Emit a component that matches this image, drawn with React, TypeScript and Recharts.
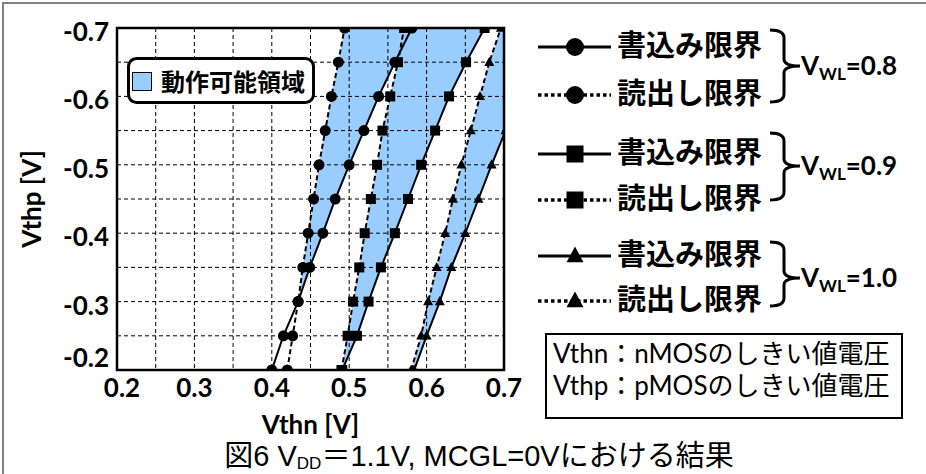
import React from "react";
import {
  Area,
  CartesianGrid,
  ComposedChart,
  Legend,
  Line,
  ReferenceArea,
  XAxis,
  YAxis,
} from "recharts";

// Vthp levels (y) and the Vthn limit (x)
const vthp = [-0.2, -0.25, -0.3, -0.35, -0.4, -0.45, -0.5, -0.55, -0.6, -0.65, -0.7];
const write08 = [0.4, 0.415, 0.434, 0.449, 0.466, 0.482, 0.5, 0.519, 0.538, 0.559, 0.581];
const read08 = [0.42, 0.427, 0.434, 0.44, 0.447, 0.454, 0.461, 0.469, 0.477, 0.486, 0.494];
const write09 = [0.491, 0.51, 0.525, 0.541, 0.559, 0.576, 0.593, 0.611, 0.629, 0.651, 0.675];
const read09 = [0.49, 0.498, 0.505, 0.513, 0.52, 0.528, 0.536, 0.543, 0.553, 0.563, 0.571];
const write10 = [0.584, 0.6, 0.617, 0.632, 0.65, 0.667, 0.684, 0.702, 0.72, 0.739, 0.758];
const read10 = [0.58, 0.593, 0.602, 0.613, 0.624, 0.634, 0.645, 0.657, 0.669, 0.681, 0.696];

const xTicks = [0.2, 0.25, 0.3, 0.35, 0.4, 0.45, 0.5, 0.55, 0.6, 0.65, 0.7];
const yTicks = [-0.7, -0.65, -0.6, -0.55, -0.5, -0.45, -0.4, -0.35, -0.3, -0.25, -0.2];

const vwlLabels = ["0.8", "0.9", "1.0"];
const limitNames = ["書込み限界", "読出し限界"];
const areaName = "動作可能領域";
const noteLines = ["Vthn：nMOSのしきい値電圧", "Vthp：pMOSのしきい値電圧"];

const BLUE = "#99CCFF";
const FONT_NUM = "Lato, 'Noto Sans CJK JP', sans-serif";
const FONT_JP = "'Noto Sans CJK JP', sans-serif";

const band = (r: number, w: number) => (w >= r ? [r, w] : null);

const rows = vthp.map((v, i) => ({
  vthp: v,
  w08: write08[i],
  r08: read08[i],
  w09: write09[i],
  r09: read09[i],
  w10: write10[i],
  r10: read10[i],
  b08: band(read08[i], write08[i]),
  b09: band(read09[i], write09[i]),
  b10: band(read10[i], write10[i]),
}));

type Shape = "circle" | "square" | "triangle";
const shapes: Shape[] = ["circle", "square", "triangle"];

function Marker({ cx, cy, shape, size }: { cx?: number; cy?: number; shape: Shape; size: number }) {
  if (cx == null || cy == null) return <g />;
  if (shape === "circle") return <circle cx={cx} cy={cy} r={size / 2} fill="#000" />;
  if (shape === "square")
    return <rect x={cx - size / 2} y={cy - size / 2} width={size} height={size} fill="#000" />;
  const h = size * 0.92;
  return (
    <path
      d={`M${cx},${cy - h * 0.6}L${cx + size / 2},${cy + h * 0.4}L${cx - size / 2},${cy + h * 0.4}Z`}
      fill="#000"
    />
  );
}

const dotFor = (shape: Shape) => (p: any) =>
  <Marker key={`m-${p.index}`} cx={p.cx} cy={p.cy} shape={shape} size={shape === "circle" ? 11 : 10} />;

const isMajor = (v: number) => Math.round(Math.abs(v) * 100) % 10 === 0;

function XTick({ x, y, payload }: any) {
  const v = payload.value;
  if (!isMajor(v)) return <g />;
  return (
    <text x={x + (v === 0.2 ? 5 : 0)} y={y} dy={19} textAnchor="middle"
      fontFamily={FONT_NUM} fontWeight={700} fontSize={26} fill="#000">
      {v.toFixed(1)}
    </text>
  );
}

function YTick({ x, y, payload }: any) {
  const v = payload.value;
  if (!isMajor(v)) return <g />;
  return (
    <text x={x} y={y} dy={v === -0.2 ? -3 : 13} textAnchor="end"
      fontFamily={FONT_NUM} fontWeight={700} fontSize={26} fill="#000">
      {v.toFixed(1)}
    </text>
  );
}

// legend rows and braces, page coordinates
const rowY = [[47, 95], [154, 200], [256, 301]];
const braceY = [[30, 102, 66], [133, 200, 166], [242, 306, 278]];

function LegendBlock() {
  return (
    <svg width={926} height={474} style={{ display: "block" }}>
      <rect x={128.5} y={58.5} width={185} height={44} rx={8} fill="#fff" stroke="#000" strokeWidth={3} />
      <rect x={132.5} y={72.5} width={19} height={18} fill={BLUE} stroke="#000" strokeWidth={1} />
      <text x={161} y={91} fontFamily={FONT_JP} fontWeight={700} fontSize={24} fill="#000">
        {areaName}
      </text>
      {vwlLabels.map((vwl, g) => {
        const [t, b, m] = braceY[g];
        return (
          <g key={vwl}>
            {limitNames.map((name, k) => {
              const y = rowY[g][k];
              return (
                <g key={name}>
                  <line x1={538} x2={611} y1={y} y2={y} stroke="#000"
                    strokeWidth={k === 1 ? 3.5 : 3}
                    strokeDasharray={k === 1 ? "3.5 3" : undefined} />
                  <Marker cx={575} cy={y} shape={shapes[g]} size={shapes[g] === "circle" ? 18 : 17} />
                  <text x={617} y={y + 9} fontFamily={FONT_JP} fontWeight={700} fontSize={29} fill="#000">
                    {name}
                  </text>
                </g>
              );
            })}
            <path
              d={`M770,${t} Q784,${t} 784,${t + 8} L784,${m - 7} Q784,${m} 800,${m} Q784,${m} 784,${m + 7} L784,${b - 8} Q784,${b} 770,${b}`}
              fill="none" stroke="#000" strokeWidth={3}
            />
            <text x={801} y={m + 9} fontFamily={FONT_NUM} fontWeight={700} fontSize={26} fill="#000">
              <tspan>V</tspan>
              <tspan fontSize={17} dy={5}>WL</tspan>
              <tspan dy={-5}>={vwl}</tspan>
            </text>
          </g>
        );
      })}
    </svg>
  );
}

export default function App() {
  return (
    <div style={{ position: "relative", width: 926, height: 474, background: "#fff", overflow: "hidden" }}>
      <style>{`body{margin:0}`}</style>
      <div style={{ position: "absolute", left: 2, top: 2, right: -4, bottom: -4,
        borderLeft: "2px solid #808080", borderTop: "2px solid #808080" }} />
      <div style={{ position: "absolute", left: 0, top: 0 }}>
        <ComposedChart width={926} height={474} layout="vertical" data={rows}
          margin={{ top: 28, right: 422, left: 0, bottom: 34 }}>
          <XAxis type="number" domain={[0.2, 0.7]} allowDataOverflow ticks={xTicks}
            tick={<XTick />} tickLine={false} axisLine={false} height={70}
            label={{ value: "Vthn [V]", position: "insideBottom", offset: 6,
              style: { fontFamily: FONT_NUM, fontWeight: 700, fontSize: 26, fill: "#000" } }} />
          <YAxis type="number" dataKey="vthp" domain={[-0.7, -0.2]} allowDataOverflow
            ticks={yTicks} tick={<YTick />} tickLine={false} axisLine={false} width={117}
            label={{ value: "Vthp [V]", angle: -90, position: "insideLeft", offset: 32,
              style: { textAnchor: "middle", fontFamily: FONT_NUM, fontWeight: 700, fontSize: 26, fill: "#000" } }} />
          <Area dataKey="b08" fill={BLUE} fillOpacity={1} stroke="none" isAnimationActive={false} />
          <Area dataKey="b09" fill={BLUE} fillOpacity={1} stroke="none" isAnimationActive={false} />
          <Area dataKey="b10" fill={BLUE} fillOpacity={1} stroke="none" isAnimationActive={false} />
          <CartesianGrid stroke="#000" strokeDasharray="4 3" strokeWidth={1} zIndex={150} />
          <Line dataKey="r08" stroke="#000" strokeWidth={2} strokeDasharray="5 3" dot={dotFor("circle")} isAnimationActive={false} />
          <Line dataKey="w08" stroke="#000" strokeWidth={2} dot={dotFor("circle")} isAnimationActive={false} />
          <Line dataKey="r09" stroke="#000" strokeWidth={2} strokeDasharray="5 3" dot={dotFor("square")} isAnimationActive={false} />
          <Line dataKey="w09" stroke="#000" strokeWidth={2} dot={dotFor("square")} isAnimationActive={false} />
          <Line dataKey="r10" stroke="#000" strokeWidth={2} strokeDasharray="5 3" dot={dotFor("triangle")} isAnimationActive={false} />
          <Line dataKey="w10" stroke="#000" strokeWidth={2} dot={dotFor("triangle")} isAnimationActive={false} />
          <ReferenceArea x1={0.2} x2={0.7} y1={-0.7} y2={-0.2} fill="none" stroke="#000" strokeWidth={2.5} />
          <Legend layout="vertical" align="center" verticalAlign="middle" content={() => <LegendBlock />}
            wrapperStyle={{ left: 0, top: 0, width: 926, height: 474, pointerEvents: "none" }} />
        </ComposedChart>
      </div>
      <div style={{ position: "absolute", left: 545, top: 333, width: 358, height: 86, boxSizing: "border-box",
        border: "2px solid #000", background: "#fff", padding: "2px 0 0 6px",
        fontFamily: FONT_NUM, fontSize: 26, lineHeight: "32px", color: "#000", whiteSpace: "nowrap" }}>
        {noteLines.map((t) => <div key={t}>{t}</div>)}
      </div>
      <svg width={926} height={474} style={{ position: "absolute", left: 0, top: 0, pointerEvents: "none" }}>
        <text x={479} y={466} textAnchor="middle" fontFamily="'Liberation Sans', 'Noto Sans CJK JP', sans-serif"
          fontSize={29} fill="#000">
          <tspan>図6 V</tspan>
          <tspan fontSize={17} dy={3}>DD</tspan>
          <tspan dy={-3}>＝1.1V, MCGL=0Vにおける結果</tspan>
        </text>
      </svg>
    </div>
  );
}
